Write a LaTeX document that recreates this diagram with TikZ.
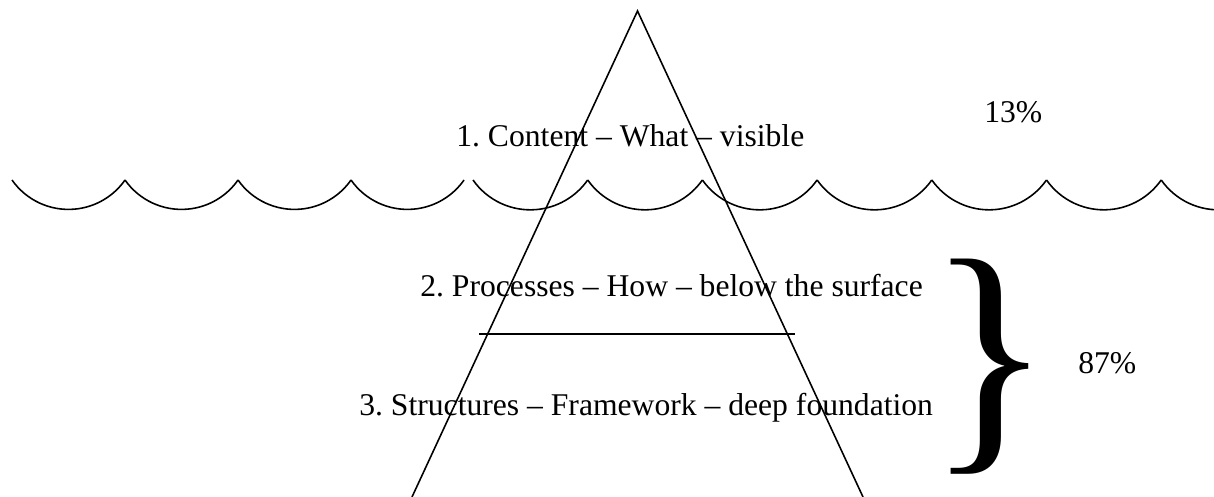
\documentclass[tikz,border=0pt]{standalone}
\usepackage{fontspec}
\setmainfont{Liberation Serif}
\usepackage{tikz}
\usetikzlibrary{positioning,calc}
\frenchspacing

\begin{document}
\begin{tikzpicture}[
  label/.style={anchor=base west, inner sep=0pt, font=\fontsize{18}{21.6}\selectfont},
  edge/.style={line width=0.9pt, black},
  wave/.style={line width=0.9pt, black}
]
  \useasboundingbox (0,0) rectangle (24.28,9.94);

  % iceberg
  \coordinate (apex) at (12.75,9.72);
  \coordinate (baseL) at (8.24,0);
  \coordinate (baseR) at (17.26,0);
  \draw[edge] (baseL) -- (apex) -- (baseR);
  \coordinate (splitL) at (9.58,3.26);
  \coordinate (splitR) at (15.9,3.26);
  \draw[edge] (splitL) -- (splitR);

  % water surface
  \foreach \i in {0,...,3}
    \draw[wave] (0.24+\i*2.26,6.34) arc[start angle=215, end angle=325, radius=1.38];
  \foreach \i in {0,...,6}
    \draw[wave] (9.46+\i*2.294,6.34) arc[start angle=215, end angle=325, radius=1.4];

  % levels
  \node[label] (content) at (9.12,7.00) {1. Content -- What -- visible};
  \node[label] (process) at (8.40,4.00) {2. Processes -- How -- below the surface};
  \node[label] (struct) at (7.18,1.62) {3. Structures -- Framework -- deep foundation};

  % shares
  \node[label] (top) at (19.68,7.48) {13\%};
  \node[inner sep=0pt, font=\fontsize{148}{148}\selectfont] (brace) at (19.80,2.60) {\}};
  \node[label] (bottom) at (21.56,2.46) {87\%};
\end{tikzpicture}
\end{document}
